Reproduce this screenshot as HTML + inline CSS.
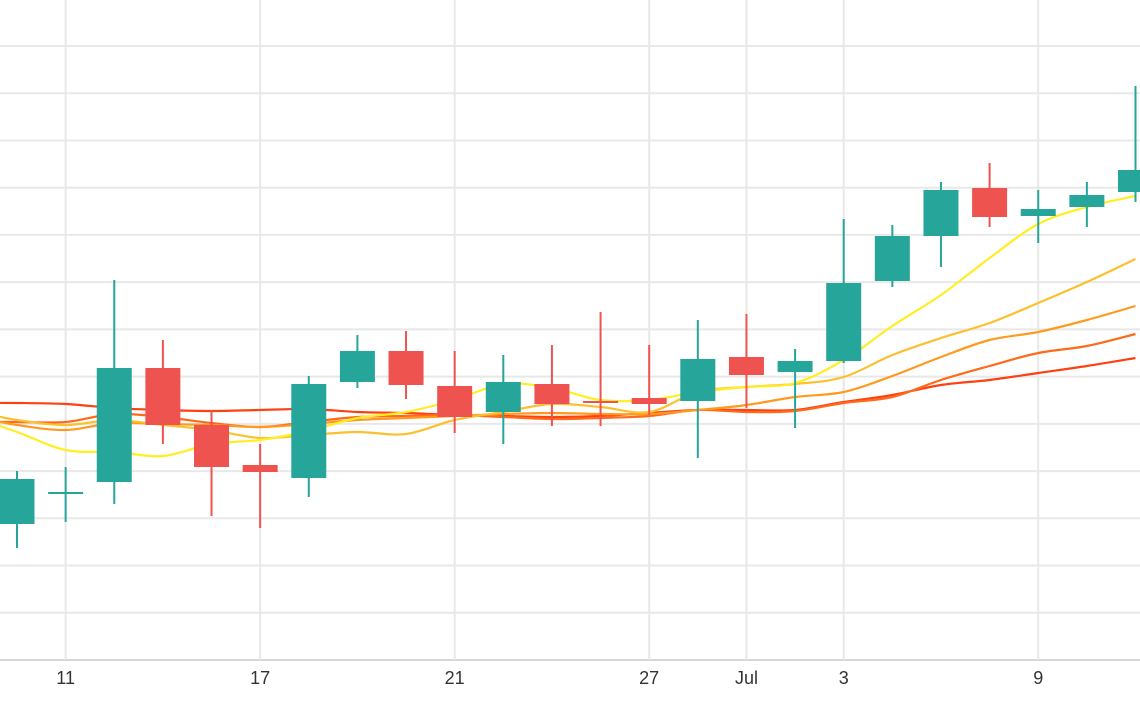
<!DOCTYPE html>
<html><head><meta charset="utf-8"><style>
html,body{margin:0;padding:0;background:#fff;}
svg{display:block;font-family:"Liberation Sans",sans-serif;}
</style></head><body>
<svg id="chart" width="1140" height="710" viewBox="0 0 1140 710" xmlns="http://www.w3.org/2000/svg">
<g id="grid"></g>
<g id="mas"></g>
<g id="candles"></g>
<g id="xaxis"></g>
</svg>
<script>
const opens  = [236,266,278,392,335,295,282,378,409,374,348,376,359,362,359,403,388,399,479,524,572,544,553,568];
const highs  = [289,293,480,420,350,316,384,425,429,409,405,415,448,415,440,446,411,541,535,578,597,570,578,674];
const lows   = [212,238,256,316,244,232,263,372,361,327,316,334,334,345,302,352,332,397,473,493,533,517,533,558];
const closes = [281,268,392,335,293,288,376,409,375,343,378,356,357,356,401,385,399,477,524,570,543,551,565,590];
// moving averages, starting at index -1
const ma1 = [345,328,310,308,304,316,320,329,342,348,360,376,372,360,360,368,373,377,400,434,465,502,536,553,564];
const ma2 = [350,340,335,340,335,330,322,325,328,326,340,348,356,353,348,368,373,376,383,405,422,437,457,478,501];
const ma3 = [345,335,330,337,336,335,333,336,340,342,344,346,347,346,346,350,355,363,368,384,403,420,428,440,454];
const ma4 = [338,338,338,346,343,337,333,338,343,344,345,343,341,342,344,350,348,349,357,363,380,394,407,414,426];
const ma5 = [357,357,356,352,350,349,350,351,348,347,345,344,343,344,347,350,350,350,358,365,375,380,387,394,402];
const tickIdx = [1,5,9,13,15,17,21];
const tickLabels = ["11","17","21","27","Jul","3","9"];

const NS="http://www.w3.org/2000/svg";
const xS = i => 17 + i*48.63;
const yS = v => 760 - v;
function mk(tag, attrs, parent){const e=document.createElementNS(NS,tag);for(const k in attrs)e.setAttribute(k,attrs[k]);parent.appendChild(e);return e;}

const grid=document.getElementById('grid');
for(let k=0;k<14;k++){
  const y=660-k*47.23;
  const l=mk('line',{x1:0,x2:1140,y1:y,y2:y,stroke:k===0?'#d6d6d6':'#e8e8e8','stroke-width':2},grid);
  
  
}
const xa=document.getElementById('xaxis');
tickIdx.forEach((ti,j)=>{
  const x=xS(ti);
  const l=mk('line',{x1:x,x2:x,y1:0,y2:660,stroke:'#e8e8e8','stroke-width':2},grid);
  
  
  const t=mk('text',{x:x,y:684,'text-anchor':'middle','font-size':18,fill:'#333'},xa);
  t.textContent=tickLabels[j];
  
  
});

const mas=document.getElementById('mas');
function smooth(pts){
  let d=`M${pts[0][0]},${pts[0][1]}`;
  for(let i=0;i<pts.length-1;i++){
    const p0=pts[Math.max(0,i-1)],p1=pts[i],p2=pts[i+1],p3=pts[Math.min(pts.length-1,i+2)];
    const c1=[p1[0]+(p2[0]-p0[0])/6,p1[1]+(p2[1]-p0[1])/6];
    const c2=[p2[0]-(p3[0]-p1[0])/6,p2[1]-(p3[1]-p1[1])/6];
    d+=` C${c1[0]},${c1[1]} ${c2[0]},${c2[1]} ${p2[0]},${p2[1]}`;
  }
  return d;
}
[[ma5,'#ff4010','ma-line-5'],[ma4,'#ff6a1a','ma-line-4'],[ma3,'#ff9a1e','ma-line-3'],[ma2,'#fbc02d','ma-line-2'],[ma1,'#ffee22','ma-line-1']].forEach(([arr,c,n])=>{
  const pts=arr.map((v,i)=>[xS(i-1),yS(v)]);
  const p=mk('path',{d:smooth(pts),fill:'none',stroke:c,'stroke-width':2.2},mas);
  
  
});

const cg=document.getElementById('candles');
opens.forEach((o,i)=>{
  const c=closes[i],up=c>=o,col=up?'#26a69a':'#ef5350',x=xS(i);
  const g=mk('g',{},cg);
  
  
  mk('line',{x1:x,x2:x,y1:yS(highs[i]),y2:yS(lows[i]),stroke:col,'stroke-width':2},g);
  const top=yS(Math.max(o,c)),h=Math.max(2,Math.abs(c-o));
  mk('rect',{x:x-17.5,y:top,width:35,height:h,fill:col},g);
});
</script>
</body></html>
